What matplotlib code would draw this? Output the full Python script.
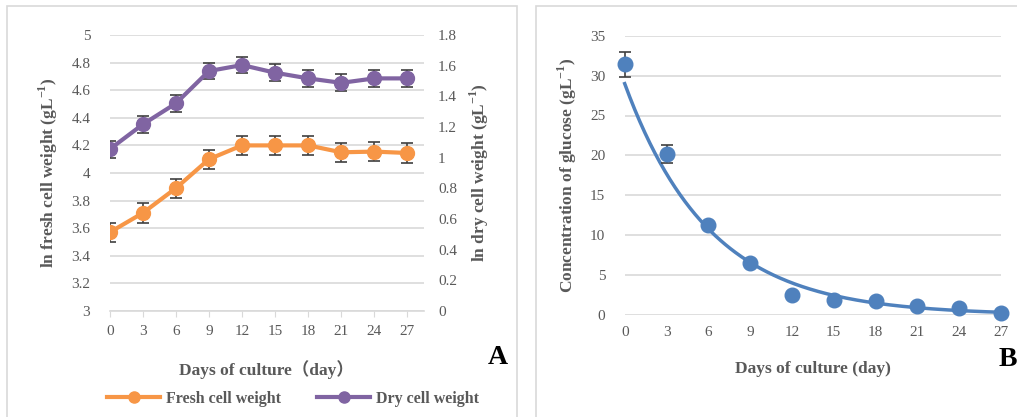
import numpy as np
import matplotlib
matplotlib.use("Agg")
import matplotlib.pyplot as plt
from matplotlib.patches import Rectangle
from matplotlib.lines import Line2D

plt.rcParams['font.family'] = ['Liberation Serif', 'Noto Sans CJK SC', 'DejaVu Serif']
plt.rcParams['mathtext.fontset'] = 'custom'
plt.rcParams['mathtext.rm'] = 'Liberation Serif'
plt.rcParams['mathtext.bf'] = 'Liberation Serif:bold'

# ---- data ----
days = [0, 3, 6, 9, 12, 15, 18, 21, 24, 27]
fresh_ln = [3.57, 3.71, 3.89, 4.10, 4.20, 4.20, 4.20, 4.15, 4.155, 4.145]
fresh_err = [0.07, 0.07, 0.07, 0.07, 0.07, 0.07, 0.07, 0.07, 0.07, 0.07]
dry_ln = [1.055, 1.217, 1.354, 1.565, 1.604, 1.554, 1.517, 1.488, 1.517, 1.517]
dry_err = [0.055, 0.055, 0.055, 0.055, 0.055, 0.055, 0.055, 0.055, 0.055, 0.055]
glucose = [31.45, 20.2, 11.24, 6.55, 2.51, 1.92, 1.75, 1.13, 0.84, 0.25]
glucose_err = [1.57, 1.09, 0.3, 0.3, 0.2, 0.2, 0.2, 0.2, 0.2, 0.2]

ORANGE = '#F79646'
PURPLE = '#8064A2'
BLUE = '#4F81BD'
GRID = '#D9D9D9'
TXT = '#595959'
ERR = '#404040'

W, H = 1017, 417
fig = plt.figure(figsize=(W / 100, H / 100), dpi=100)

def box(x0, y0, x1, y1):
    return [x0 / W, 1 - y1 / H, (x1 - x0) / W, (y1 - y0) / H]

# panel borders
fig.patches.append(Rectangle((7 / W, -0.1), (517 - 7) / W, 1 - 6 / H + 0.1,
                             transform=fig.transFigure, fill=False,
                             edgecolor='#D9D9D9', lw=1.2))
fig.patches.append(Rectangle((536 / W, -0.1), 1.0, 1 - 6 / H + 0.1,
                             transform=fig.transFigure, fill=False,
                             edgecolor='#D9D9D9', lw=1.2))

tick_fs = 11
lab_fs = 12.5
sup = r'$^{\mathbf{-1}}$'

# ---- Panel A ----
ax1 = fig.add_axes(box(109.7, 35, 424, 311))
ax1.set_xlim(0, 28.5)
ax1.set_ylim(3, 5)
ax1.set_yticks(np.arange(3, 5.01, 0.2))
ax1.set_yticklabels([f'{v:g}' for v in np.round(np.arange(3, 5.01, 0.2), 1)])
ax1.set_xticks(days)
ax1.grid(axis='y', color=GRID, lw=1.2)
ax1.set_axisbelow(True)
for s in ['top', 'right', 'left']:
    ax1.spines[s].set_visible(False)
ax1.spines['bottom'].set_color(GRID)
ax1.spines['bottom'].set_linewidth(1.2)
ax1.tick_params(axis='x', colors=GRID, labelcolor=TXT, labelsize=tick_fs,
                length=4, pad=6)
ax1.tick_params(axis='y', length=0, labelcolor=TXT, labelsize=tick_fs, pad=14)

ax1.errorbar(days, fresh_ln, yerr=fresh_err, color=ORANGE, lw=3, marker='o',
             ms=10, ecolor=ERR, elinewidth=1.2, capsize=4.5, capthick=1.2, zorder=3)

ax2 = ax1.twinx()
ax2.set_ylim(0, 1.8)
ax2.set_yticks(np.arange(0, 1.81, 0.2))
ax2.set_yticklabels([f'{v:g}' for v in np.round(np.arange(0, 1.81, 0.2), 1)])
for s in ['top', 'right', 'left', 'bottom']:
    ax2.spines[s].set_visible(False)
ax2.tick_params(axis='y', length=0, labelcolor=TXT, labelsize=tick_fs, pad=10)
ax2.errorbar(days, dry_ln, yerr=dry_err, color=PURPLE, lw=3, marker='o',
             ms=10, ecolor=ERR, elinewidth=1.2, capsize=4.5, capthick=1.2, zorder=3)

ax1.set_ylabel('ln fresh cell weight (gL' + sup + ')', fontsize=lab_fs,
               fontweight='bold', color=TXT, labelpad=8)
ax2.set_ylabel('ln dry cell weight (gL' + sup + ')', fontsize=lab_fs,
               fontweight='bold', color=TXT, labelpad=8)
ax1.set_xlabel('Days of culture（day）', fontsize=lab_fs, fontweight='bold',
               color=TXT, labelpad=16)

fig.text(498 / W, 1 - 358 / H, 'A', fontsize=20, fontweight='bold',
         ha='center', va='center', color='black')

handles = [Line2D([], [], color=ORANGE, lw=3, marker='o', ms=8),
           Line2D([], [], color=PURPLE, lw=3, marker='o', ms=8)]
fig.legend(handles, ['Fresh cell weight', 'Dry cell weight'],
           loc='center', bbox_to_anchor=(293 / W, 1 - 399 / H), ncol=2,
           frameon=False, handlelength=3.3, handletextpad=0.35, columnspacing=2.3,
           prop={'weight': 'bold', 'size': 11.5}, labelcolor=TXT)

# ---- Panel B ----
ax3 = fig.add_axes(box(624.7, 35.7, 1001, 315))
ax3.set_xlim(0, 27)
ax3.set_ylim(0, 35)
ax3.set_yticks(range(0, 36, 5))
ax3.set_xticks(days)
ax3.grid(axis='y', color=GRID, lw=1.2)
ax3.set_axisbelow(True)
for s in ['top', 'right', 'left', 'bottom']:
    ax3.spines[s].set_visible(False)
ax3.tick_params(axis='both', length=0, labelcolor=TXT, labelsize=tick_fs)
ax3.tick_params(axis='y', pad=14)
ax3.tick_params(axis='x', pad=8)

# exponential trendline fitted to the data (least squares on ln y)
k, b = np.polyfit(days, np.log(glucose), 1)
xs = np.linspace(0, 27, 300)
ax3.plot(xs, np.exp(b + k * xs), color=BLUE, lw=2.5, zorder=3, clip_on=False)
ax3.errorbar(days, glucose, yerr=glucose_err, fmt='o', color=BLUE, ms=10.5,
             ecolor=ERR, elinewidth=1.2, capsize=4.5, capthick=1.2, zorder=4,
             clip_on=False)

ax3.set_ylabel('Concentration of glucose (gL' + sup + ')', fontsize=lab_fs,
               fontweight='bold', color=TXT, labelpad=8)
ax3.set_xlabel('Days of culture (day)', fontsize=lab_fs, fontweight='bold',
               color=TXT, labelpad=16)
fig.text(1008 / W, 1 - 359 / H, 'B', fontsize=20, fontweight='bold',
         ha='center', va='center', color='black')

fig.savefig('out.png', dpi=100)
